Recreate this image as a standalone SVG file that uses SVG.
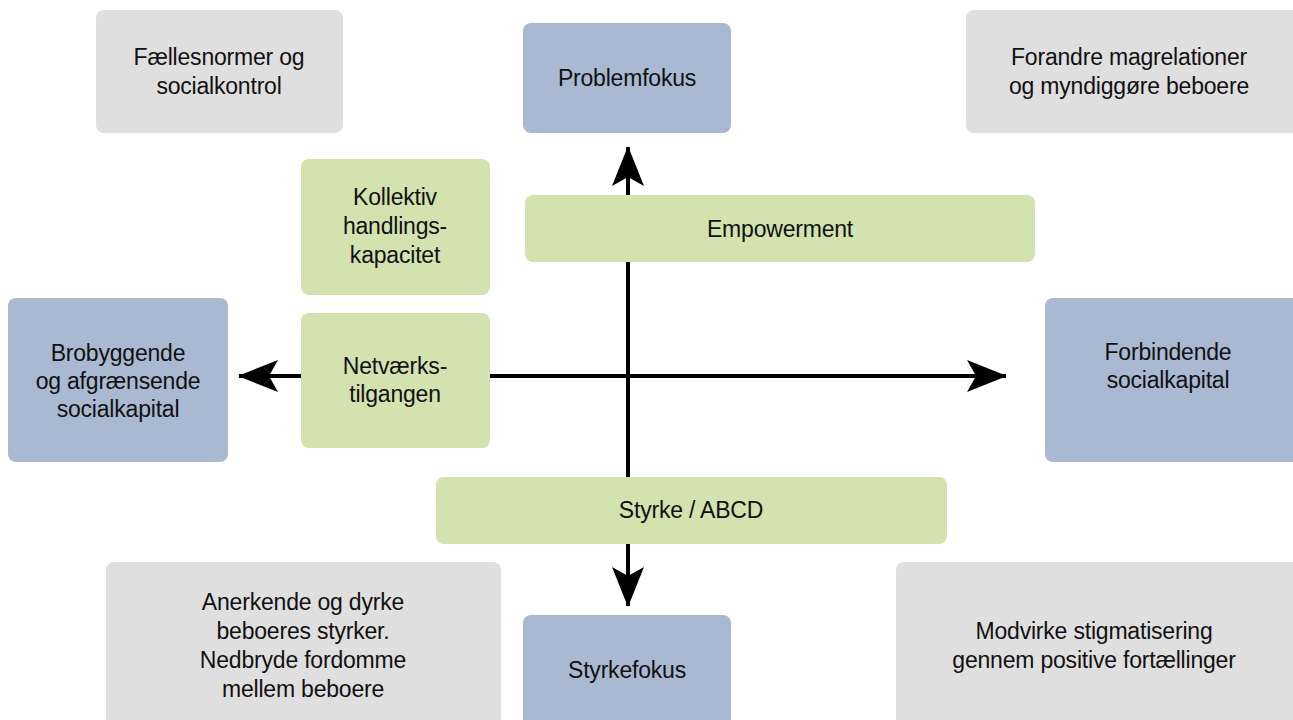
<svg xmlns="http://www.w3.org/2000/svg" width="1293" height="720" viewBox="0 0 1293 720">
<style>
.g{fill:#dfdfdf}
.b{fill:#a8b9d1}
.n{fill:#d3e3b0}
text{font-family:"Liberation Sans",Arial,sans-serif;font-size:23px;fill:#111;text-anchor:middle;letter-spacing:-0.2px}
.ln{stroke:#000;stroke-width:4;fill:none}
</style>
<defs>
<marker id="ah" viewBox="0 0 40 32" refX="39" refY="16" markerWidth="40" markerHeight="32" markerUnits="userSpaceOnUse" orient="auto">
<path d="M40,16 L0,0 L9,16 L0,32 Z" fill="#000"/>
</marker>
</defs>
<g id="connectors">
<line class="ln" x1="628" y1="376" x2="628" y2="147" marker-end="url(#ah)"/>
<line class="ln" x1="628" y1="376" x2="628" y2="606" marker-end="url(#ah)"/>
<line class="ln" x1="628" y1="376" x2="239" y2="376" marker-end="url(#ah)"/>
<line class="ln" x1="628" y1="376" x2="1006" y2="376" marker-end="url(#ah)"/>
</g>
<g id="faellesnormer"><rect class="g" x="96" y="10" width="247" height="123" rx="8"/><text x="219" y="65">Fællesnormer og</text><text x="219" y="94">socialkontrol</text></g>
<g id="problemfokus"><rect class="b" x="523" y="23" width="208" height="110" rx="8"/><text x="627" y="86">Problemfokus</text></g>
<g id="forandre"><rect class="g" x="966" y="10" width="340" height="123" rx="8"/><text x="1129" y="65">Forandre magrelationer</text><text x="1129" y="94">og myndiggøre beboere</text></g>
<g id="kollektiv"><rect class="n" x="301" y="159" width="189" height="136" rx="8"/><text x="395" y="205">Kollektiv</text><text x="395" y="234">handlings-</text><text x="395" y="263">kapacitet</text></g>
<g id="empowerment"><rect class="n" x="525" y="195" width="510" height="67" rx="8"/><text x="780" y="237">Empowerment</text></g>
<g id="brobyggende"><rect class="b" x="8" y="298" width="220" height="164" rx="8"/><text x="118" y="361">Brobyggende</text><text x="118" y="389">og afgrænsende</text><text x="118" y="417">socialkapital</text></g>
<g id="netvaerk"><rect class="n" x="301" y="313" width="189" height="135" rx="8"/><text x="395" y="374">Netværks-</text><text x="395" y="402">tilgangen</text></g>
<g id="forbindende"><rect class="b" x="1045" y="298" width="260" height="164" rx="8"/><text x="1168" y="360">Forbindende</text><text x="1168" y="388">socialkapital</text></g>
<g id="styrke"><rect class="n" x="436" y="477" width="511" height="67" rx="8"/><text x="691" y="518">Styrke / ABCD</text></g>
<g id="anerkende"><rect class="g" x="106" y="562" width="395" height="170" rx="8"/><text x="303" y="610">Anerkende og dyrke</text><text x="303" y="639">beboeres styrker.</text><text x="303" y="668">Nedbryde fordomme</text><text x="303" y="697">mellem beboere</text></g>
<g id="styrkefokus"><rect class="b" x="523" y="615" width="208" height="120" rx="8"/><text x="627" y="678">Styrkefokus</text></g>
<g id="modvirke"><rect class="g" x="896" y="562" width="410" height="170" rx="8"/><text x="1094" y="639">Modvirke stigmatisering</text><text x="1094" y="668">gennem positive fortællinger</text></g>
</svg>
